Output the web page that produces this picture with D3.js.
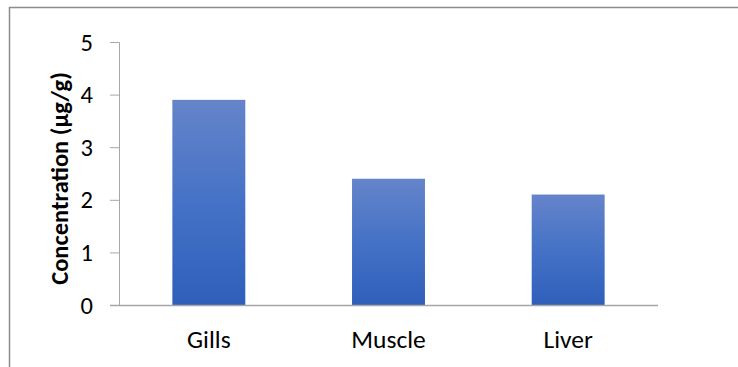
<!DOCTYPE html>
<html>
<head>
<meta charset="utf-8">
<script src="https://cdn.jsdelivr.net/npm/d3@7"></script>
<style>
  html, body { margin: 0; padding: 0; background: #fff; }
  svg { display: block; }
</style>
</head>
<body>
<script>
// Tissue concentrations
const categories = ["Gills", "Muscle", "Liver"];
const values = [3.9, 2.4, 2.1];
const yTicks = [0, 1, 2, 3, 4, 5];
const yTitle = "Concentration (µg/g)";

const W = 738, H = 367;
const plot = { left: 119, right: 658, top: 42, bottom: 305 };

const svg = d3.select("body").append("svg")
  .attr("width", W).attr("height", H);

// chart frame (top and left edges)
svg.append("path")
  .attr("d", `M9.5,${H} L9.5,7.5 L${W},7.5`)
  .attr("fill", "none").attr("stroke", "#8c8c8c").attr("stroke-width", 1.5);

const defs = svg.append("defs");
const grad = defs.append("linearGradient")
  .attr("id", "barFill").attr("x1", 0).attr("y1", 0).attr("x2", 0).attr("y2", 1);
grad.append("stop").attr("offset", "0%").attr("stop-color", "#6584ca");
grad.append("stop").attr("offset", "50%").attr("stop-color", "#4572c6");
grad.append("stop").attr("offset", "100%").attr("stop-color", "#2f5fbb");

const x = d3.scaleBand()
  .domain(categories)
  .range([plot.left, plot.right])
  .paddingInner(0.594)
  .paddingOuter(0.297);

const y = d3.scaleLinear()
  .domain([0, 5])
  .range([plot.bottom, plot.top]);

const font = "Carlito, Calibri, 'Open Sans', 'Liberation Sans', sans-serif";

// bars
svg.append("g").selectAll("rect")
  .data(categories)
  .join("rect")
  .attr("x", d => x(d))
  .attr("width", x.bandwidth())
  .attr("y", (d, i) => y(values[i]))
  .attr("height", (d, i) => y(0) - y(values[i]))
  .attr("fill", "url(#barFill)");

// y axis
const yAxis = svg.append("g")
  .attr("transform", `translate(${plot.left},0)`)
  .call(d3.axisLeft(y).tickValues(yTicks).tickFormat(d3.format("d")).tickSize(9).tickPadding(17));
yAxis.select(".domain").attr("stroke", "#a6a6a6").attr("stroke-width", 1);
yAxis.selectAll(".tick line").attr("stroke", "#a6a6a6");
yAxis.selectAll(".tick text")
  .attr("font-family", font).attr("font-size", 24.5).attr("fill", "#000")
  .attr("dy", "0.33em");

// x axis
const xAxis = svg.append("g")
  .attr("transform", `translate(0,${plot.bottom})`)
  .call(d3.axisBottom(x).tickSize(0));
xAxis.select(".domain")
  .attr("d", `M${plot.left - 9},0.5H${plot.right}`)
  .attr("stroke", "#a6a6a6").attr("stroke-width", 1.5);
xAxis.selectAll(".tick text")
  .attr("font-family", font).attr("font-size", 25.5).attr("fill", "#000")
  .attr("dy", null).attr("y", 43);

// y axis title
svg.append("text")
  .attr("transform", `translate(68,${(plot.top + plot.bottom) / 2 + 5}) rotate(-90)`)
  .attr("text-anchor", "middle")
  .attr("font-family", font).attr("font-size", 24.5).attr("font-weight", "bold")
  .attr("fill", "#000")
  .text(yTitle);
</script>
</body>
</html>
